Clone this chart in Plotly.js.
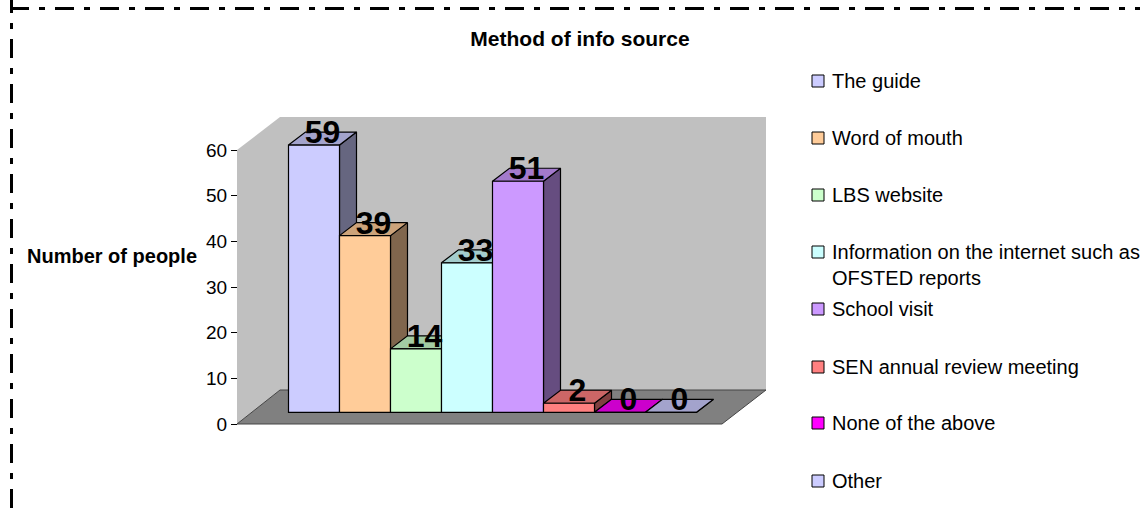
<!DOCTYPE html>
<html>
<head>
<meta charset="utf-8">
<script src="https://cdn.plot.ly/plotly-3.0.1.min.js"></script>
<style>html,body{margin:0;padding:0;background:#fff;overflow:hidden}</style>
</head>
<body>
<div id="chart" style="width:1140px;height:518px"></div>
<script>
const categories = ["The guide","Word of mouth","LBS website","Information on the internet such as<br>OFSTED reports","School visit","SEN annual review meeting","None of the above","Other"];
const values = [59,39,14,33,51,2,0,0];
const frontColors = ["#ccccff","#ffcc99","#ccffcc","#ccffff","#cc99ff","#ff8080","#ff00ff","#ccccff"];
const topColors = ["#a3a3cc","#cca37a","#a3cca3","#a3cccc","#a37acc","#cc6666","#cc00cc","#a3a3cc"];
const sideColors = ["#666680","#80664d","#668066","#668080","#664d80","#804040","#800080","#666680"];
const tickValues = [0,10,20,30,40,50,60];
const legendY = [81,138,195,252,309,367,423,481];

const W = 1140, H = 518;
const px = x => x / W, py = y => 1 - y / H;
const barLeft = 288.5, barStep = 51, barBase = 412.3, unitPx = 4.53;
const depthX = 17 / barStep, depthY = 13 / unitPx;
const font = "Liberation Sans, Arial, sans-serif";

const traces = [];
// invisible carrier for the tick axis
traces.push({type:"scatter",x:[0,0],y:[0,60],xaxis:"x",yaxis:"y2",mode:"none",showlegend:false,hoverinfo:"skip"});
const centers = values.map((_, i) => i + 0.5);
values.forEach((v, i) => {
  const z = i * 3 + 1;
  traces.push({type:"scatter",xaxis:"x",yaxis:"y",mode:"lines",fill:"toself",fillcolor:sideColors[i],
    x:[i+1,i+1+depthX,i+1+depthX,i+1,i+1],y:[0,depthY,v+depthY,v,0],
    line:{color:"#000",width:1.2},showlegend:false,hoverinfo:"skip",zorder:z});
  traces.push({type:"scatter",xaxis:"x",yaxis:"y",mode:"lines",fill:"toself",fillcolor:topColors[i],
    x:[i,i+1,i+1+depthX,i+depthX,i],y:[v,v,v+depthY,v+depthY,v],
    line:{color:"#000",width:1.2},showlegend:false,hoverinfo:"skip",zorder:z+1});
  traces.push({type:"bar",xaxis:"x",yaxis:"y",x:[centers[i]],y:[v],width:1,name:categories[i],
    marker:{color:frontColors[i],line:{color:"#000",width:1.2}},showlegend:false,zorder:z+2});
});
traces.push({type:"scatter",xaxis:"x",yaxis:"y",mode:"text",
  x:centers.map(c => c + depthX / 2),
  y:values.map(v => v + depthY / 2 + 3.5 / unitPx),
  text:values.map(String),textposition:"middle center",
  textfont:{family:font,size:32,color:"#000",weight:700},
  showlegend:false,hoverinfo:"skip",zorder:100});

const poly = pts => "M" + pts.map(p => px(p[0]) + "," + py(p[1])).join(" L") + " Z";
const shapes = [
  {type:"path",xref:"paper",yref:"paper",layer:"below",path:poly([[280,117],[766,117],[766,390],[280,390]]),fillcolor:"#c0c0c0",line:{width:0}},
  {type:"path",xref:"paper",yref:"paper",layer:"below",path:poly([[237,150],[280,117],[280,390],[237,424]]),fillcolor:"#c0c0c0",line:{width:0}},
  {type:"path",xref:"paper",yref:"paper",layer:"below",path:poly([[237,424],[280,390],[766,390],[722,424]]),fillcolor:"#808080",line:{color:"#444",width:1}},
  {type:"line",xref:"paper",yref:"paper",x0:px(10),x1:px(1140),y0:py(8.5),y1:py(8.5),line:{color:"#000",width:3,dash:"19px,10px,6px,10px"}},
  {type:"line",xref:"paper",yref:"paper",x0:px(11.5),x1:px(11.5),y0:py(-6),y1:py(518),line:{color:"#000",width:3,dash:"19px,10px,6px,10px"}}
];
const annotations = [
  {xref:"paper",yref:"paper",x:px(112),y:py(256),text:"<b>Number of people</b>",showarrow:false,xanchor:"center",yanchor:"middle",font:{family:font,size:20,color:"#000"}}
];
categories.forEach((c, i) => {
  const y = legendY[i];
  shapes.push({type:"rect",xref:"paper",yref:"paper",x0:px(812),x1:px(824),y0:py(y-6),y1:py(y+6),fillcolor:frontColors[i],line:{color:"#000",width:1}});
  c.split("<br>").forEach((t, k) => {
    annotations.push({xref:"paper",yref:"paper",x:px(831),y:py(y+26*k),text:t,showarrow:false,xanchor:"left",yanchor:"middle",xshift:-1,font:{family:font,size:20,color:"#000"}});
  });
});

const layout = {
  width:W,height:H,margin:{l:0,r:0,t:0,b:0,pad:0},
  paper_bgcolor:"#fff",plot_bgcolor:"rgba(0,0,0,0)",showlegend:false,barmode:"overlay",
  title:{text:"<b>Method of info source</b>",x:px(580),xanchor:"center",y:py(39),yanchor:"middle",font:{family:font,size:21,color:"#000"}},
  xaxis:{visible:false,domain:[0,1],range:[-barLeft/barStep,(W-barLeft)/barStep],fixedrange:true},
  yaxis:{visible:false,domain:[0,1],range:[-(H-barBase)/unitPx,barBase/unitPx],fixedrange:true},
  yaxis2:{domain:[py(424),py(150)],range:[0,60],anchor:"free",position:px(237),side:"left",
    tickmode:"array",tickvals:tickValues,ticktext:tickValues.map(String),ticks:"outside",ticklen:6,tickwidth:1,tickcolor:"#000",
    showline:true,linecolor:"#000",linewidth:1,showgrid:false,zeroline:false,fixedrange:true,
    tickfont:{family:font,size:19,color:"#000"}},
  shapes,annotations
};
Plotly.newPlot("chart",traces,layout,{displayModeBar:false,staticPlot:true});
</script>
</body>
</html>
